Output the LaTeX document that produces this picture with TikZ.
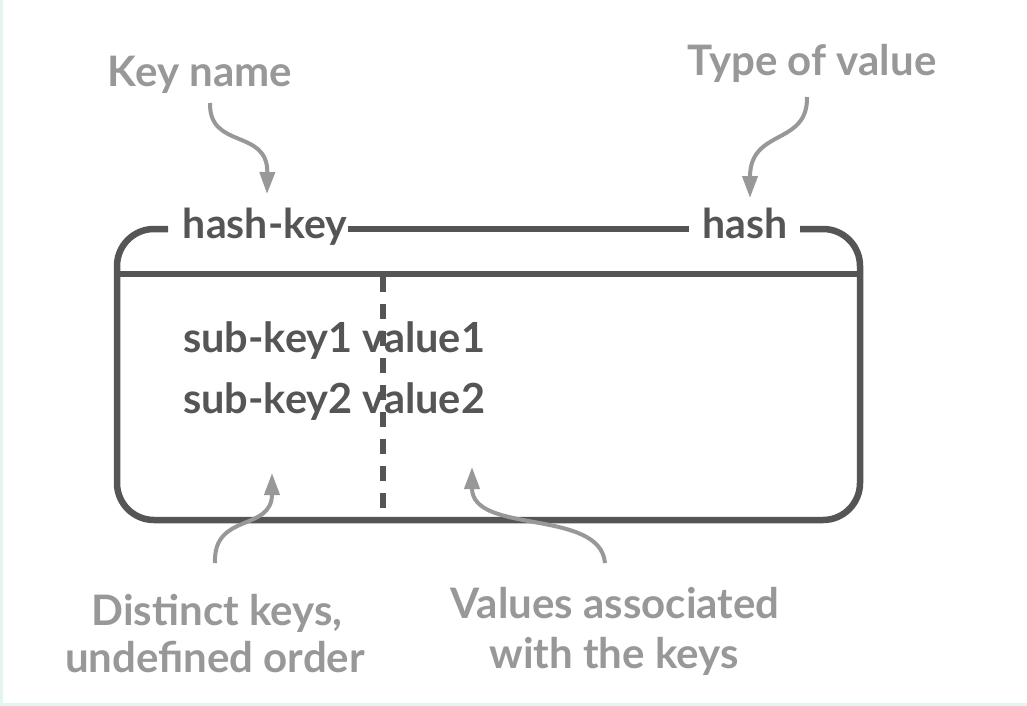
\documentclass[tikz,border=0pt]{standalone}
\usepackage{fontspec}
\setmainfont{Lato}
\usetikzlibrary{arrows.meta}
\definecolor{dark}{HTML}{555555}
\definecolor{soft}{HTML}{989898}
\definecolor{mint}{HTML}{E4F5F1}
\tikzset{
  boxline/.style={draw=dark,line width=6.5pt},
  note/.style={text=soft,font=\fontsize{42}{48}\selectfont\bfseries,inner sep=0pt,anchor=base},
  field/.style={text=dark,font=\fontsize{41}{48}\selectfont\bfseries,inner sep=0pt,anchor=base},
  entry/.style={text=dark,font=\fontsize{41.5}{48}\selectfont\bfseries,inner sep=0pt,anchor=base west},
  pointer/.style={draw=soft,line width=4pt,-{Triangle[length=22pt,width=15pt]}},
}
\begin{document}
\begin{tikzpicture}[x=1pt,y=-1pt]
\fill[white] (0,0) rectangle (1027,706);
\useasboundingbox (0,0) rectangle (1027,706);
\fill[mint] (0,0) rectangle (3,706);
\fill[mint] (0,703) rectangle (1027,706);
% labels
\node[note] (keyname) at (200,87) {Key name};
\node[note] (typeval) at (812,76) {Type of value};
\node[field] (hk) at (265,238) {hash-key};
\node[field] (h) at (745,238) {hash};
\node[entry] (e1) at (183,352) {sub-key1 value1};
\node[entry] (e2) at (183,413) {sub-key2 value2};
\node[note] (dk1) at (217,625) {Distinct keys,};
\node[note] (dk2) at (215,672) {undefined order};
\node[note] (va1) at (615,618) {Values associated};
\node[note] (va2) at (614,668) {with the keys};
% box outline
\coordinate (tl) at (168,229);
\coordinate (tm1) at (348,229);
\coordinate (tm2) at (689,229);
\coordinate (tr) at (800,229);
\draw[boxline,rounded corners=37pt] (tl) -- (117,229) -- (117,520) -- (860,520) -- (860,229) -- (tr);
\draw[boxline] (tm1) -- (tm2);
\coordinate (sepl) at (117,274);
\coordinate (sepr) at (860,274);
\draw[boxline] (sepl) -- (sepr);
\coordinate (dtop) at (383,274);
\coordinate (dbot) at (383,520);
\draw[boxline,dash pattern=on 15pt off 12pt,dash phase=-3pt] (dtop) -- (dbot);
% pointers
\coordinate (a1) at (210,103);
\coordinate (t1) at (267,194);
\draw[pointer] (a1) .. controls (209,150) and (268,128) .. (t1);
\coordinate (a2) at (807,97);
\coordinate (t2) at (750,198);
\draw[pointer] (a2) .. controls (808,146) and (750,128) .. (t2);
\coordinate (a3) at (215,563);
\coordinate (t3) at (272,473);
\draw[pointer] (a3) .. controls (213,512) and (272,532) .. (t3);
\coordinate (a4) at (605,563);
\coordinate (t4) at (472,467);
\draw[pointer] (a4) .. controls (600,508) and (472,535) .. (t4);
\end{tikzpicture}
\end{document}
